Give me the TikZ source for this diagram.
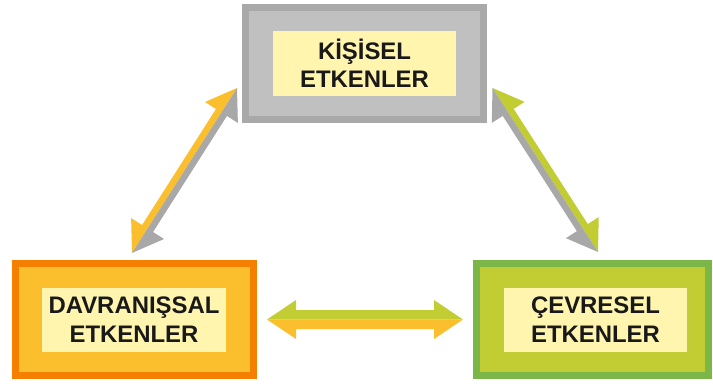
\documentclass[tikz,border=0pt]{standalone}
\usepackage{fontspec}
\setmainfont{Liberation Sans}
\usepackage{xcolor}
\usepackage{tikz}
\usetikzlibrary{calc}

\definecolor{grayedge}{HTML}{A9A9A9}
\definecolor{grayfill}{HTML}{C0C0C0}
\definecolor{orangeedge}{HTML}{F57F00}
\definecolor{orangefill}{HTML}{FBBF2E}
\definecolor{greenedge}{HTML}{7AB648}
\definecolor{greenfill}{HTML}{C2CC33}
\definecolor{textfill}{HTML}{FFF5AF}
\definecolor{arrowgray}{HTML}{A8A8A8}

% two-coloured double arrow: from, to, left colour, right colour, half shaft
\newcommand{\splitarrow}[5]{%
  \coordinate (sa1) at ($(#1)!29bp!(#2)$);
  \coordinate (sa2) at ($(#2)!29bp!(#1)$);
  \fill[#3] (#1) -- ($(sa1)!19.5bp!90:(#2)$) -- ($(sa1)!#5!90:(#2)$)
    -- ($(sa2)!#5!-90:(#1)$) -- ($(sa2)!19.5bp!-90:(#1)$) -- (#2) -- cycle;
  \fill[#4] (#1) -- ($(sa1)!19.5bp!-90:(#2)$) -- ($(sa1)!#5!-90:(#2)$)
    -- ($(sa2)!#5!90:(#1)$) -- ($(sa2)!19.5bp!90:(#1)$) -- (#2) -- cycle;
}

\begin{document}
\begin{tikzpicture}[x=1bp,y=1bp,node distance=256bp,
    factor/.style={draw, rectangle, line width=7bp, minimum height=112bp, inner sep=0pt},
    inbox/.style={rectangle, fill=textfill, minimum width=183bp, minimum height=64bp,
      inner sep=0pt, align=center, text=black!90,
      font=\fontsize{24}{28.5}\selectfont\bfseries}]
        \useasboundingbox (0,0) rectangle (713,383);
        \node[factor, draw=grayedge, fill=grayfill, minimum width=238bp] (kisisel) at (364.5,319.5) {};
        \node[factor, draw=orangeedge, fill=orangefill, minimum width=238bp, below of=kisisel, xshift=-230bp] (davranis) {};
        \node[factor, draw=greenedge, fill=greenfill, minimum width=232bp, below of=kisisel, xshift=228bp] (cevresel) {};

        \node[inbox] (kisiselText) at (kisisel) {KİŞİSEL\\ETKENLER};
        \node[inbox] (davranisText) at ([xshift=-0.5bp]davranis.center) {DAVRANIŞSAL\\ETKENLER};
        \node[inbox] (cevreselText) at ([xshift=3bp]cevresel.center) {ÇEVRESEL\\ETKENLER};

        \coordinate (dk1) at ($(davranis.north)+(-2.5,7)$);
        \coordinate (dk2) at ($(kisisel.west)+(-5,-24.5)$);
        \coordinate (kc1) at ($(kisisel.east)+(5.5,-24.5)$);
        \coordinate (kc2) at ($(cevresel.north)+(5.5,8)$);
        \coordinate (dc1) at ($(davranis.east)+(10,0)$);
        \coordinate (dc2) at ($(cevresel.west)+(-10,0)$);

        \splitarrow{dk1}{dk2}{orangefill}{arrowgray}{6.5bp}
        \splitarrow{kc1}{kc2}{greenfill}{arrowgray}{6.5bp}
        \splitarrow{dc1}{dc2}{greenfill}{orangefill}{9.5bp}
    \end{tikzpicture}
\end{document}
